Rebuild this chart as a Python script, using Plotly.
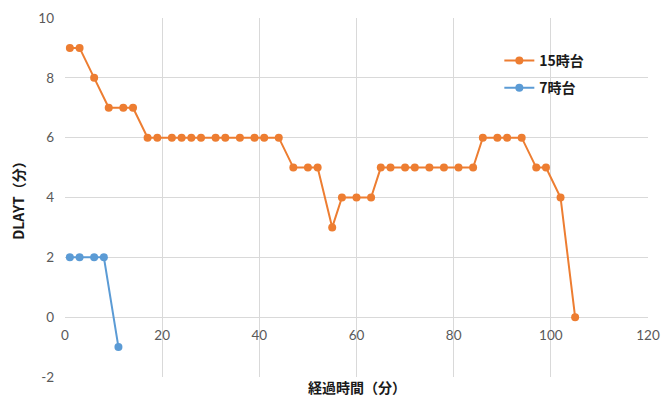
import plotly.graph_objects as go

# 15時台 series: elapsed minutes and DLAYT values
x_15 = [1, 3, 6, 9, 12, 14, 17, 19, 22, 24, 26, 28, 31, 33, 36, 39, 41, 44,
        47, 50, 52, 55, 57, 60, 63, 65, 67, 70, 72, 75, 78, 81, 84, 86, 89, 91,
        94, 97, 99, 102, 105]
y_15 = [9, 9, 8, 7, 7, 7, 6, 6, 6, 6, 6, 6, 6, 6, 6, 6, 6, 6,
        5, 5, 5, 3, 4, 4, 4, 5, 5, 5, 5, 5, 5, 5, 5, 6, 6, 6,
        6, 5, 5, 4, 0]

# 7時台 series
x_7 = [1, 3, 6, 8, 11]
y_7 = [2, 2, 2, 2, -1]

x_ticks = [0, 20, 40, 60, 80, 100, 120]
y_ticks = [-2, 0, 2, 4, 6, 8, 10]
y_tick_text = ["-2", "0", "2", "4", "6", "8", "10"]

ORANGE = "#ED7D31"
BLUE = "#5B9BD5"
GRID = "#D9D9D9"
TICK_FONT = dict(family="Lato, Noto Sans", size=13.5, color="#595959")
TITLE_FONT = dict(family="Noto Sans CJK JP", size=14, color="#1a1a1a")

fig = go.Figure()
fig.add_trace(go.Scatter(x=x_15, y=y_15, name="<b>15時台</b>", mode="lines+markers",
                         legendgroup="g15",
                         line=dict(color=ORANGE, width=2),
                         marker=dict(color=ORANGE, size=8)))
fig.add_trace(go.Scatter(x=x_7, y=y_7, name="<b>7時台</b>", mode="lines+markers",
                         legendgroup="g7",
                         line=dict(color=BLUE, width=2),
                         marker=dict(color=BLUE, size=8)))

y_min, y_max = -2, 10

fig.update_layout(
    width=664, height=400,
    margin=dict(l=65, r=16, t=18, b=23),
    paper_bgcolor="white", plot_bgcolor="white",
    showlegend=True,
    legend=dict(x=0.745, y=0.925, xanchor="left", yanchor="top",
                bgcolor="rgba(0,0,0,0)", tracegroupgap=6, traceorder="grouped",
                font=dict(family="Noto Sans CJK JP", size=14, color="#1a1a1a"),
                itemwidth=30),
    xaxis=dict(range=[0, 120], tickvals=x_ticks, showgrid=True, gridcolor=GRID,
               gridwidth=1, zeroline=False, showline=False, automargin=False,
               anchor="free", position=(0 - y_min) / (y_max - y_min),
               tickfont=TICK_FONT, ticks="", ticklabelstandoff=8),
    yaxis=dict(range=[y_min, y_max], tickvals=y_ticks, ticktext=y_tick_text,
               showgrid=True, gridcolor=GRID, automargin=False,
               gridwidth=1, zeroline=True, zerolinecolor=GRID, zerolinewidth=1,
               showline=False, tickfont=TICK_FONT, ticks="", ticklabelstandoff=10),
    annotations=[
        dict(text="<b>経過時間（分）</b>", xref="paper", yref="paper",
             x=0.5, y=-0.028, xanchor="center", yanchor="middle",
             showarrow=False, font=TITLE_FONT),
        dict(text="<b>DLAYT（分）</b>", xref="paper", yref="paper",
             x=-0.082, y=0.5, xanchor="center", yanchor="middle",
             textangle=-90, showarrow=False, font=TITLE_FONT),
    ],
)

fig.write_html("out.html")
